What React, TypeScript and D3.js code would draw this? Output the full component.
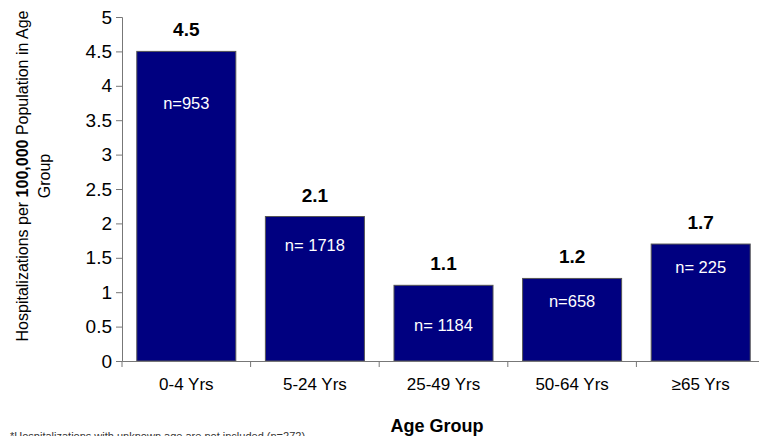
import React, { useEffect, useRef } from "react";
import * as d3 from "d3";

const categories = ["0-4 Yrs", "5-24 Yrs", "25-49 Yrs", "50-64 Yrs", "≥65 Yrs"];
const rates = [4.5, 2.1, 1.1, 1.2, 1.7];
const counts = ["n=953", "n= 1718", "n= 1184", "n=658", "n= 225"];
// where the n= label sits, in rate units
const countLabelAt = [3.75, 1.68, 0.52, 0.87, 1.37];
const yTicks = [0, 0.5, 1, 1.5, 2, 2.5, 3, 3.5, 4, 4.5, 5];

const W = 759;
const H = 436;
const margin = { top: 17, right: -6, bottom: 75, left: 122 };

export default function App() {
  const ref = useRef<SVGSVGElement>(null);

  useEffect(() => {
    const svg = d3.select(ref.current);
    svg.selectAll("*").remove();
    const font = "Arial, 'Liberation Sans', sans-serif";

    const x = d3
      .scaleBand()
      .domain(categories)
      .range([margin.left, W - margin.right])
      .paddingInner(0.23)
      .paddingOuter(0.115);
    const y = d3
      .scaleLinear()
      .domain([0, 5])
      .range([H - margin.bottom, margin.top]);

    // bars
    svg
      .append("g")
      .selectAll("rect")
      .data(rates)
      .join("rect")
      .attr("x", (d, i) => x(categories[i])!)
      .attr("y", (d) => y(d))
      .attr("width", x.bandwidth())
      .attr("height", (d) => y(0) - y(d))
      .attr("fill", "#000080")
      .attr("stroke", "#555")
      .attr("stroke-width", 1);

    // value labels
    svg
      .append("g")
      .selectAll("text")
      .data(rates)
      .join("text")
      .attr("x", (d, i) => x(categories[i])! + x.bandwidth() / 2)
      .attr("y", (d) => y(d) - 15)
      .attr("text-anchor", "middle")
      .attr("font-family", font)
      .attr("font-weight", "bold")
      .attr("font-size", 19)
      .text((d) => d.toFixed(1));

    // n labels
    svg
      .append("g")
      .selectAll("text")
      .data(counts)
      .join("text")
      .attr("x", (d, i) => x(categories[i])! + x.bandwidth() / 2)
      .attr("y", (d, i) => y(countLabelAt[i]))
      .attr("dy", "0.35em")
      .attr("text-anchor", "middle")
      .attr("font-family", font)
      .attr("font-size", 16.5)
      .attr("fill", "#fff")
      .text((d) => d);

    // y axis
    const yAxis = svg
      .append("g")
      .attr("transform", `translate(${margin.left},0)`)
      .call(d3.axisLeft(y).tickValues(yTicks).tickSize(6).tickPadding(4).tickFormat((d) => String(d)));
    yAxis.selectAll("path, line").attr("stroke", "#777");
    yAxis.selectAll("text").attr("font-family", font).attr("font-size", 19).attr("fill", "#000");

    // x axis
    const xAxis = svg
      .append("g")
      .attr("transform", `translate(0,${y(0)})`)
      .call(d3.axisBottom(x).tickSize(0).tickPadding(17));
    xAxis.select("path").attr("stroke", "#777");
    xAxis.selectAll("text").attr("font-family", font).attr("font-size", 17).attr("fill", "#000");
    // category boundary ticks
    const step = x.step();
    const bounds = d3.range(categories.length + 1).map((i) => margin.left + i * step);
    svg
      .append("g")
      .selectAll("line")
      .data(bounds)
      .join("line")
      .attr("x1", (d) => d)
      .attr("x2", (d) => d)
      .attr("y1", y(0))
      .attr("y2", y(0) + 6)
      .attr("stroke", "#777");

    // x title
    svg
      .append("text")
      .attr("x", 437)
      .attr("y", 432)
      .attr("text-anchor", "middle")
      .attr("font-family", font)
      .attr("font-weight", "bold")
      .attr("font-size", 18)
      .text("Age Group");

    // y title
    const yt = svg
      .append("text")
      .attr("transform", "translate(22,176) rotate(-90)")
      .attr("text-anchor", "middle")
      .attr("font-family", font)
      .attr("font-size", 16);
    yt.append("tspan").attr("x", 0).attr("dy", "0.35em").text("Hospitalizations per ");
    yt.append("tspan").attr("font-weight", "bold").text("100,000");
    yt.append("tspan").text("  Population in Age");
    yt.append("tspan").attr("x", 0).attr("dy", "1.4em").text("Group");

    // footnote (cut off at the bottom edge, as in the source)
    svg
      .append("text")
      .attr("x", 10)
      .attr("y", 440)
      .attr("font-family", font)
      .attr("font-size", 11)
      .attr("fill", "#333")
      .text("*Hospitalizations with unknown age are not included (n=272)");
  }, []);

  return (
    <svg
      ref={ref}
      width={W}
      height={H}
      style={{ position: "absolute", left: 0, top: 0, background: "#fff" }}
    />
  );
}
